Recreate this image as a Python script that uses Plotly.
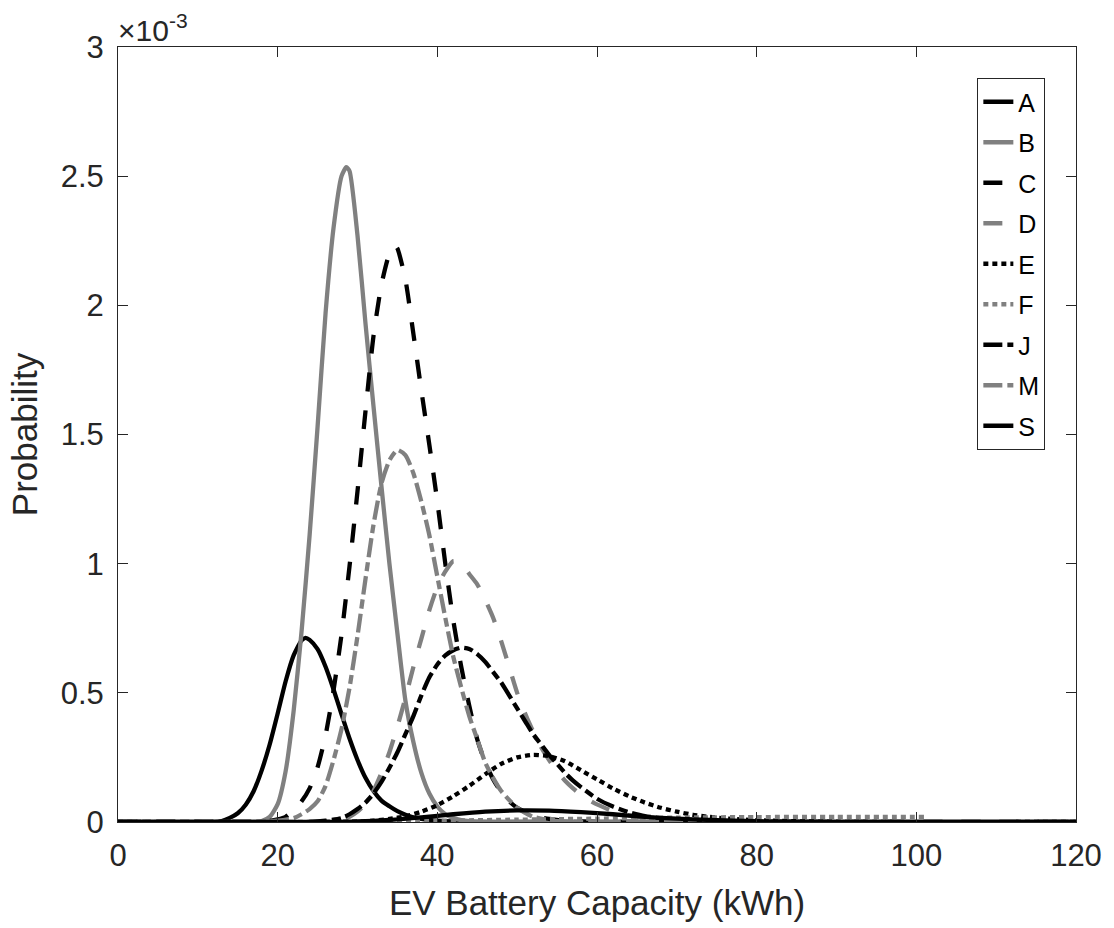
import plotly.graph_objects as go

# ---- data (y in units of 1e-3) ----
x_A = [0, 10, 12, 13, 14, 15, 16, 17, 18, 19, 20, 21, 22, 23, 23.5, 24, 25, 26, 27, 28, 29, 30, 31, 32, 33, 34, 35, 36, 37, 38, 39, 40, 42, 45, 50, 120]
y_A = [0, 0, 0, 0.004, 0.016, 0.034, 0.067, 0.12, 0.20, 0.30, 0.42, 0.545, 0.645, 0.703, 0.713, 0.705, 0.669, 0.601, 0.513, 0.417, 0.323, 0.24, 0.171, 0.12, 0.083, 0.061, 0.042, 0.028, 0.018, 0.012, 0.008, 0.005, 0.002, 0, 0, 0]

x_B = [0, 14, 16, 17, 18, 19, 20, 21, 22, 23, 24, 25, 26, 27, 28, 28.6, 29, 30, 31, 32, 33, 34, 35, 36, 37, 38, 39, 40, 41, 42, 43, 44, 46, 50, 120]
y_B = [0, 0, 0, 0.001, 0.004, 0.02, 0.069, 0.197, 0.43, 0.74, 1.11, 1.53, 1.97, 2.30, 2.50, 2.535, 2.52, 2.27, 1.93, 1.61, 1.30, 1.00, 0.73, 0.47, 0.31, 0.19, 0.11, 0.06, 0.03, 0.015, 0.007, 0.003, 0, 0, 0]

x_C = [0, 14, 16, 18, 19, 20, 21, 22, 23, 24, 25, 26, 27, 28, 29, 30, 31, 32, 33, 34, 34.7, 35, 36, 37, 38, 39, 40, 41, 42, 43, 44, 45, 46, 47, 48, 49, 50, 52, 54, 56, 58, 60, 64, 120]
y_C = [0, 0, 0, 0.001, 0.004, 0.01, 0.02, 0.045, 0.08, 0.13, 0.212, 0.336, 0.51, 0.726, 0.99, 1.28, 1.59, 1.88, 2.08, 2.20, 2.23, 2.22, 2.10, 1.89, 1.67, 1.46, 1.24, 1.00, 0.78, 0.60, 0.45, 0.32, 0.23, 0.165, 0.115, 0.08, 0.055, 0.025, 0.012, 0.005, 0.002, 0, 0, 0]

x_D = [0, 20, 24, 26, 28, 29, 30, 31, 32, 33, 34, 35, 36, 37, 38, 39, 40, 41, 42, 43, 44, 45, 46, 47, 48, 49, 50, 51, 52, 53, 54, 55, 56, 57, 58, 59, 60, 62, 64, 66, 68, 70, 75, 80, 120]
y_D = [0, 0, 0, 0.003, 0.01, 0.02, 0.04, 0.07, 0.12, 0.19, 0.27, 0.37, 0.48, 0.60, 0.71, 0.82, 0.91, 0.97, 1.01, 1.00, 0.96, 0.92, 0.86, 0.79, 0.70, 0.60, 0.50, 0.42, 0.35, 0.29, 0.24, 0.195, 0.16, 0.13, 0.105, 0.085, 0.068, 0.042, 0.026, 0.016, 0.01, 0.006, 0.002, 0, 0]

x_E = [0, 26, 30, 32, 34, 36, 38, 40, 42, 44, 46, 48, 50, 52, 54, 56, 58, 60, 62, 64, 66, 68, 70, 72, 74, 76, 78, 80, 85, 90, 95, 120]
y_E = [0, 0, 0.002, 0.005, 0.012, 0.022, 0.04, 0.065, 0.10, 0.14, 0.185, 0.225, 0.25, 0.26, 0.255, 0.235, 0.20, 0.165, 0.13, 0.10, 0.075, 0.055, 0.04, 0.028, 0.02, 0.014, 0.01, 0.007, 0.003, 0.001, 0, 0]

x_F = [0, 20, 30, 40, 50, 60, 70, 80, 90, 101]
y_F = [0, 0, 0.002, 0.005, 0.009, 0.013, 0.017, 0.019, 0.02, 0.02]

x_J = [0, 20, 24, 26, 28, 29, 30, 31, 32, 33, 34, 35, 36, 37, 38, 39, 40, 41, 42, 43, 44, 45, 46, 47, 48, 49, 50, 51, 52, 53, 54, 55, 56, 57, 58, 60, 62, 64, 66, 68, 70, 74, 80, 120]
y_J = [0, 0, 0, 0.005, 0.015, 0.03, 0.05, 0.075, 0.11, 0.155, 0.21, 0.27, 0.34, 0.41, 0.49, 0.56, 0.61, 0.645, 0.665, 0.675, 0.67, 0.65, 0.62, 0.58, 0.54, 0.49, 0.44, 0.39, 0.34, 0.30, 0.26, 0.225, 0.19, 0.16, 0.135, 0.09, 0.06, 0.038, 0.023, 0.014, 0.008, 0.003, 0, 0]

x_M = [0, 16, 18, 20, 22, 23, 24, 25, 26, 27, 28, 29, 30, 31, 32, 33, 34, 35, 36, 37, 38, 39, 40, 41, 42, 43, 44, 45, 46, 47, 48, 49, 50, 51, 52, 54, 56, 60, 120]
y_M = [0, 0, 0.001, 0.005, 0.015, 0.03, 0.05, 0.08, 0.14, 0.24, 0.36, 0.52, 0.72, 0.94, 1.15, 1.31, 1.40, 1.44, 1.42, 1.35, 1.24, 1.11, 0.95, 0.79, 0.64, 0.52, 0.41, 0.32, 0.23, 0.17, 0.12, 0.085, 0.055, 0.035, 0.02, 0.007, 0.002, 0, 0]

x_S = [0, 26, 30, 34, 38, 42, 46, 50, 54, 58, 62, 66, 70, 74, 80, 90, 120]
y_S = [0, 0, 0.002, 0.008, 0.018, 0.03, 0.04, 0.045, 0.044, 0.038, 0.03, 0.02, 0.013, 0.008, 0.003, 0, 0]

names = ["A", "B", "C", "D", "E", "F", "J", "M", "S"]
xs = [x_A, x_B, x_C, x_D, x_E, x_F, x_J, x_M, x_S]
ys = [y_A, y_B, y_C, y_D, y_E, y_F, y_J, y_M, y_S]

x_ticks = [0, 20, 40, 60, 80, 100, 120]
y_ticks = [0, 0.5, 1, 1.5, 2, 2.5, 3]
y_ticktext = ["0", "0.5", "1", "1.5", "2", "2.5", "3"]

# ---- styles ----
BLACK = "#000000"
GRAY = "#808080"
SOLID = "solid"
DASH = "19px,19px"
DOT = "5px,4px"
DASHDOT = "19px,5px,9px,5px"
styles = {
    "A": (BLACK, SOLID), "B": (GRAY, SOLID), "C": (BLACK, DASH), "D": (GRAY, DASH),
    "E": (BLACK, DOT), "F": (GRAY, DOT), "J": (BLACK, DASHDOT), "M": (GRAY, DASHDOT),
    "S": (BLACK, SOLID),
}

FONT = "Liberation Sans, Arial, Helvetica, sans-serif"
TXT = "#262626"

fig = go.Figure()
for n, x, y in zip(names, xs, ys):
    c, d = styles[n]
    fig.add_trace(go.Scatter(
        x=x, y=y, mode="lines", name=n, legendgroup=n,
        line=dict(color=c, width=4.3, dash=d, shape="spline", smoothing=0.6),
    ))

axis_common = dict(
    showgrid=False, zeroline=False, showline=True, linecolor=TXT, linewidth=1,
    mirror="ticks", ticks="inside", ticklen=10, tickcolor=TXT, tickwidth=1,
    tickfont=dict(family=FONT, size=31, color=TXT),
)

fig.update_layout(
    width=1114, height=928,
    margin=dict(l=118, r=30, t=47, b=103),
    paper_bgcolor="white", plot_bgcolor="white",
    font=dict(family=FONT, color=TXT),
    xaxis=dict(range=[0, 120], tickvals=x_ticks, ticklabelstandoff=6, **axis_common,
               title=dict(text="EV Battery Capacity (kWh)", font=dict(family=FONT, size=35, color=TXT), standoff=18)),
    yaxis=dict(range=[0, 3], tickvals=y_ticks, ticktext=y_ticktext, ticklabelstandoff=7, **axis_common,
               title=dict(text="Probability", font=dict(family=FONT, size=35, color=TXT), standoff=12)),
    legend=dict(
        x=0.968, y=0.96, xanchor="right", yanchor="top",
        bgcolor="white", bordercolor=TXT, borderwidth=1,
        font=dict(family=FONT, size=25, color="#000000"),
        tracegroupgap=5,
    ),
    showlegend=True,
)

fig.add_annotation(
    text="×10<sup>-3</sup>", xref="paper", yref="paper", x=0, y=1,
    xanchor="left", yanchor="bottom", showarrow=False,
    font=dict(family=FONT, size=30, color=TXT), yshift=-2, xshift=-2,
)

fig.write_html("out.html")
